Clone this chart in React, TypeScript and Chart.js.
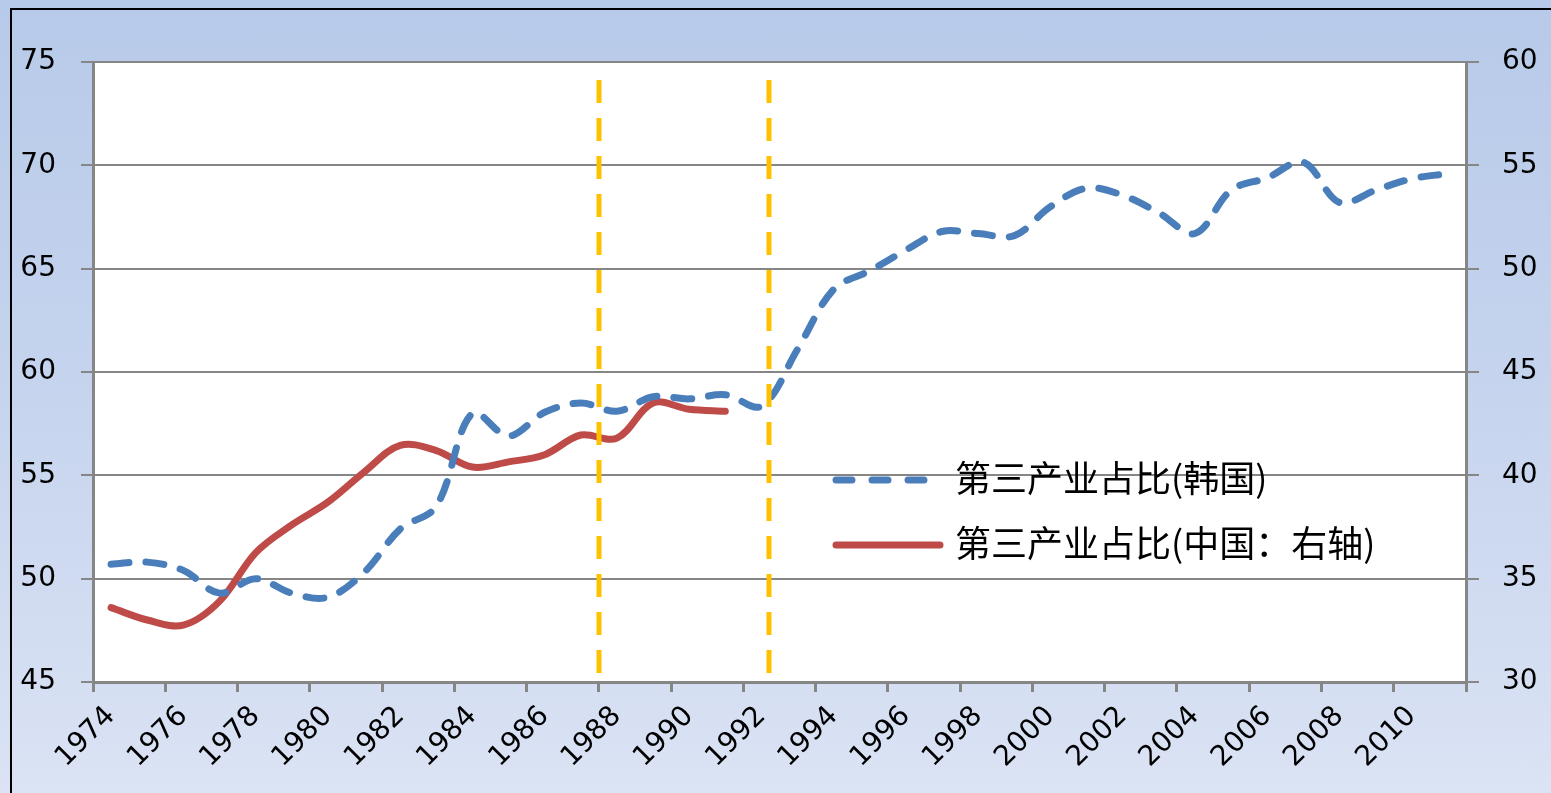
import React, { useEffect, useRef } from 'react';
import { Chart, registerables } from 'chart.js';

Chart.register(...registerables);

const years = [
  '1974', '1975', '1976', '1977', '1978', '1979', '1980', '1981', '1982', '1983',
  '1984', '1985', '1986', '1987', '1988', '1989', '1990', '1991', '1992', '1993',
  '1994', '1995', '1996', '1997', '1998', '1999', '2000', '2001', '2002', '2003',
  '2004', '2005', '2006', '2007', '2008', '2009', '2010', '2011',
];

// 第三产业占比(韩国) — left axis
const koreaShare = [
  50.7, 50.8, 50.4, 49.3, 50.0, 49.3, 49.1, 50.3, 52.4, 53.5,
  58.0, 56.9, 58.05, 58.5, 58.1, 58.8, 58.7, 58.9, 58.35, 61.1,
  64.0, 64.9, 65.9, 66.8, 66.7, 66.6, 68.0, 68.9, 68.55, 67.7,
  66.7, 68.8, 69.4, 70.15, 68.2, 68.8, 69.35, 69.6,
];

// 第三产业占比(中国：右轴) — right axis
const chinaShare = [
  33.6, 33.0, 32.75, 33.9, 36.25, 37.6, 38.7, 40.15, 41.45, 41.2,
  40.4, 40.65, 41.0, 41.95, 41.8, 43.5, 43.2, 43.1,
];

const leftAxisRange = [45, 75];
const rightAxisRange = [30, 60];
const axisStep = 5;

// vertical reference lines, in (fractional) years
const markerYears = [1987.5, 1992.2];

const legendLabels = ['第三产业占比(韩国)', '第三产业占比(中国：右轴)'];

const BLUE = '#4A7EBB';
const RED = '#BE4B48';
const ORANGE = '#FFC000';
const GRAY = '#868686';
const TICK_FONT = { family: '"DejaVu Sans", sans-serif', size: 28 };

const chartBgPlugin = {
  id: 'chartBg',
  beforeDraw(chart: any) {
    const { ctx, chartArea } = chart;
    ctx.save();
    ctx.fillStyle = '#ffffff';
    ctx.fillRect(chartArea.left, chartArea.top, chartArea.right - chartArea.left, chartArea.bottom - chartArea.top);
    ctx.restore();
  },
};

const markerPlugin = {
  id: 'markers',
  afterDatasetsDraw(chart: any) {
    const { ctx, chartArea, scales } = chart;
    const x = scales.x;
    ctx.save();
    ctx.strokeStyle = ORANGE;
    ctx.lineWidth = 5;
    ctx.setLineDash([23, 15]);
    markerYears.forEach((yr) => {
      const px = Math.round(x.getPixelForValue(yr - Number(years[0])));
      ctx.beginPath();
      ctx.moveTo(px, chartArea.top + 18);
      ctx.lineTo(px, chartArea.bottom - 6);
      ctx.stroke();
    });
    ctx.restore();
  },
};

const legendPlugin = {
  id: 'customLegend',
  afterDraw(chart: any) {
    const { ctx } = chart;
    const items = [
      { label: legendLabels[0], color: BLUE, dash: [16, 20], y: 480 },
      { label: legendLabels[1], color: RED, dash: [], y: 545 },
    ];
    ctx.save();
    items.forEach((it) => {
      ctx.strokeStyle = it.color;
      ctx.lineWidth = 7;
      ctx.lineCap = 'round';
      ctx.setLineDash(it.dash);
      ctx.beginPath();
      ctx.moveTo(836, it.y);
      ctx.lineTo(940, it.y);
      ctx.stroke();
      ctx.setLineDash([]);
      ctx.fillStyle = '#000';
      ctx.font = '36px "Noto Sans CJK SC", sans-serif';
      ctx.textAlign = 'left';
      ctx.textBaseline = 'middle';
      ctx.fillText(it.label, 955, it.y - 2);
    });
    ctx.restore();
  },
};

export default function App() {
  const canvasRef = useRef<HTMLCanvasElement | null>(null);

  useEffect(() => {
    const canvas = canvasRef.current;
    if (!canvas) return;
    const chart = new Chart(canvas, {
      type: 'line',
      data: {
        labels: years,
        datasets: [
          {
            label: legendLabels[0],
            data: koreaShare,
            yAxisID: 'y',
            borderColor: BLUE,
            backgroundColor: BLUE,
            borderWidth: 7,
            borderDash: [18, 17],
            borderCapStyle: 'round',
            borderJoinStyle: 'round',
            pointRadius: 0,
            tension: 0.35,
            fill: false,
          },
          {
            label: legendLabels[1],
            data: chinaShare,
            yAxisID: 'y1',
            borderColor: RED,
            backgroundColor: RED,
            borderWidth: 7,
            borderCapStyle: 'round',
            borderJoinStyle: 'round',
            pointRadius: 0,
            tension: 0.35,
            fill: false,
          },
        ],
      },
      options: {
        animation: false,
        responsive: true,
        maintainAspectRatio: false,
        layout: { padding: { top: 62, left: 0, right: 0, bottom: 0 } },
        plugins: {
          legend: { display: false },
          tooltip: { enabled: false },
        },
        scales: {
          x: {
            type: 'category',
            offset: true,
            grid: {
              offset: true,
              drawOnChartArea: false,
              drawTicks: true,
              tickLength: 10,
              lineWidth: 3,
              color: (c: any) => (c.index === undefined || c.index % 2 === 0 ? GRAY : 'rgba(0,0,0,0)'),
            },
            border: { color: GRAY, width: 3 },
            ticks: {
              autoSkip: false,
              maxRotation: 45,
              minRotation: 45,
              padding: 8,
              color: '#000',
              font: TICK_FONT,
              callback: (_v: any, i: number) => (i % 2 === 0 ? years[i] : ''),
            },
            afterFit: (s: any) => {
              s.height = 111;
            },
          },
          y: {
            position: 'left',
            min: leftAxisRange[0],
            max: leftAxisRange[1],
            grid: { color: GRAY, lineWidth: 2, tickLength: 12 },
            border: { color: GRAY, width: 3 },
            ticks: { stepSize: axisStep, padding: 25, color: '#000', font: TICK_FONT },
            afterFit: (s: any) => {
              s.width = 93;
            },
          },
          y1: {
            position: 'right',
            min: rightAxisRange[0],
            max: rightAxisRange[1],
            grid: { drawOnChartArea: false, color: GRAY, lineWidth: 2, tickLength: 13 },
            border: { color: GRAY, width: 3 },
            ticks: { stepSize: axisStep, padding: 23, color: '#000', font: TICK_FONT },
            afterFit: (s: any) => {
              s.width = 85;
            },
          },
        },
      },
      plugins: [chartBgPlugin, markerPlugin, legendPlugin],
    } as any);
    return () => chart.destroy();
  }, []);

  return (
    <div
      style={{
        position: 'fixed',
        left: 0,
        top: 0,
        width: 1551,
        height: 793,
        overflow: 'hidden',
        background: 'linear-gradient(180deg, #b7cae9 0%, #c6d4ee 50%, #dbe3f4 100%)',
      }}
    >
      <div
        style={{
          position: 'absolute',
          left: 10,
          top: 8,
          width: 1700,
          height: 900,
          border: '2px solid #000',
          boxSizing: 'border-box',
        }}
      />
      <div style={{ position: 'absolute', left: 0, top: 0, width: 1551, height: 793 }}>
        <canvas ref={canvasRef} />
      </div>
    </div>
  );
}
